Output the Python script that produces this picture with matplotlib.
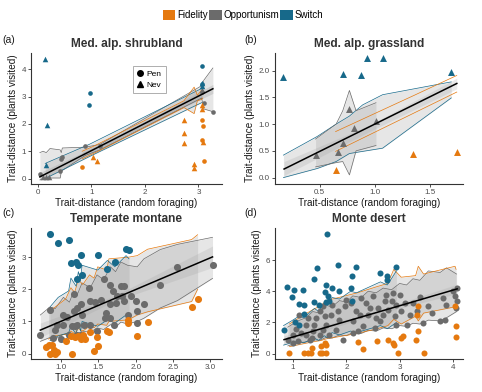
import matplotlib
matplotlib.use("Agg")
import matplotlib.pyplot as plt
from matplotlib.patches import Patch
from matplotlib.lines import Line2D
import numpy as np

plt.rcParams['font.family'] = ['Liberation Sans', 'DejaVu Sans']

C_FID = '#E5790F'
C_OPP = '#6B6B6B'
C_SW = '#17698A'

groups = ['Fidelity', 'Opportunism', 'Switch']
titles = ['Med. alp. shrubland', 'Med. alp. grassland', 'Temperate montane', 'Monte desert']
panel_tags = ['(a)', '(b)', '(c)', '(d)']
xlab = 'Trait-distance (random foraging)'
ylab = 'Trait-distance (plants visited)'

# ---------------- Panel (a) ----------------
a_sw_tri_x = [0.14, 0.17, 0.15, 3.06, 3.06]
a_sw_tri_y = [4.37, 1.98, 0.50, 3.50, 3.40]
a_sw_cir_x = [0.98, 0.96, 3.06, 3.06]
a_sw_cir_y = [3.15, 2.68, 4.13, 3.45]
a_fid_tri_x = [1.04, 1.11, 2.73, 2.73, 2.73, 2.92, 2.92, 3.06, 3.06, 3.08]
a_fid_tri_y = [0.78, 0.63, 2.13, 1.67, 1.30, 0.55, 0.37, 2.70, 2.55, 1.35]
a_fid_cir_x = [0.83, 3.07, 3.08, 3.06, 3.10]
a_fid_cir_y = [0.41, 2.13, 1.94, 1.40, 0.66]
a_opp_cir_x = [0.04, 0.42, 0.44, 0.46, 0.89, 1.16, 3.06, 3.10, 3.27]
a_opp_cir_y = [0.16, 0.28, 0.70, 0.78, 1.19, 1.18, 3.17, 2.77, 2.44]
a_opp_tri_x = [0.10, 0.16, 0.22, 3.06]
a_opp_tri_y = [0.06, 0.06, 0.06, 3.25]

a_rib_sw_x = [0.14, 0.17, 0.96, 0.98, 3.06]
a_rib_sw_hi = [0.55, 0.58, 1.25, 1.27, 3.30]
a_rib_sw_lo = [0.00, 0.03, 0.80, 0.82, 2.78]
a_rib_fid_x = [0.83, 1.04, 1.11, 2.73, 2.92, 2.98, 3.06, 3.08]
a_rib_fid_hi = [1.00, 1.18, 1.25, 2.85, 3.35, 3.05, 3.25, 3.20]
a_rib_fid_lo = [0.72, 0.92, 0.98, 2.60, 2.38, 2.85, 2.90, 2.95]
a_rib_opp_x = [0.04, 0.10, 0.16, 0.23, 0.42, 0.44, 0.46, 0.89, 1.16, 3.06, 3.10, 3.27]
a_rib_opp_hi = [0.95, 1.00, 0.95, 1.10, 1.05, 0.95, 1.12, 1.15, 1.25, 3.40, 3.60, 4.05]
a_rib_opp_lo = [-0.05, 0.00, 0.00, 0.02, 0.02, 0.25, 0.30, 0.85, 1.05, 2.95, 2.55, 2.45]
a_ci_x = [0.04, 1.65, 3.27]
a_ci_hi = [0.22, 1.70, 3.45]
a_ci_lo = [-0.08, 1.60, 3.12]
a_fit_x = [0.04, 3.27]
a_fit_y = [0.06, 3.29]

# ---------------- Panel (b) ----------------
b_sw_x = [0.174, 0.71, 0.875, 0.926, 1.074, 1.687]
b_sw_y = [1.89, 1.94, 1.91, 2.24, 2.24, 1.975]
b_fid_x = [0.645, 1.346, 1.74]
b_fid_y = [0.14, 0.44, 0.47]
b_opp_x = [0.464, 0.67, 0.71, 0.81, 0.77, 1.01]
b_opp_y = [0.42, 0.48, 0.64, 0.93, 1.28, 1.06]

b_rib_sw_x = [0.174, 0.48, 0.65, 0.77, 0.89, 1.07, 1.69]
b_rib_sw_hi = [0.42, 0.77, 1.00, 1.15, 1.36, 1.55, 1.79]
b_rib_sw_lo = [0.00, 0.17, 0.30, 0.45, 0.49, 0.55, 1.49]
b_rib_opp_x = [0.464, 0.65, 0.71, 0.77, 0.83, 1.01]
b_rib_opp_hi = [0.72, 1.00, 1.25, 1.63, 1.25, 1.40]
b_rib_opp_lo = [0.20, 0.28, 0.30, 0.05, 0.50, 0.60]
b_rib_fid_x = [0.645, 1.346, 1.74]
b_rib_fid_hi = [0.86, 1.53, 1.91]
b_rib_fid_lo = [0.49, 1.20, 1.60]
b_ci_x = [0.18, 0.95, 1.74]
b_ci_hi = [0.30, 0.98, 1.86]
b_ci_lo = [0.04, 0.86, 1.66]
b_fit_x = [0.18, 1.74]
b_fit_y = [0.16, 1.76]

# ---------------- Panel (c) ----------------
c_sw_x = [0.85, 0.955, 1.10, 1.13, 1.20, 1.23, 1.26, 1.49, 1.21, 1.28, 1.62, 1.72, 1.87, 1.91]
c_sw_y = [3.72, 3.43, 3.53, 2.82, 2.85, 2.75, 3.06, 3.08, 2.31, 2.45, 2.62, 2.86, 3.26, 3.22]
c_fid_x = [0.83, 0.87, 0.85, 0.92, 0.95, 1.06, 1.13, 1.15, 1.18, 1.23, 1.29, 1.32, 1.38,
           1.44, 1.49, 1.61, 1.64, 1.90, 1.90, 2.02, 2.16, 2.83, 2.75, 0.90, 0.80, 1.48, 1.27]
c_fid_y = [0.26, 0.26, 0.00, 0.00, 0.04, 0.40, 0.54, 0.00, 0.51, 0.54, 0.59, 0.44, 0.66,
           0.07, 0.23, 0.70, 0.66, 1.06, 0.96, 0.56, 0.98, 1.70, 1.44, 0.10, 0.20, 0.51, 0.45]
c_opp_x = [0.72, 0.85, 0.89, 0.92, 0.94, 1.03, 1.08, 1.03, 1.14, 1.11, 1.19, 1.21, 1.17,
           1.21, 1.17, 1.26, 1.28, 1.21, 1.26, 1.30, 1.37, 1.39, 1.59, 1.60, 1.66, 1.66,
           1.73, 1.75, 1.80, 1.84, 1.82, 1.84, 1.93, 2.01, 2.02, 2.11, 2.33, 2.56, 3.03,
           1.66, 1.71, 1.48, 1.53, 1.57, 1.70, 1.89, 1.39, 2.02, 1.00, 1.45]
c_opp_y = [0.59, 1.37, 0.49, 0.72, 0.90, 1.21, 1.13, 0.90, 0.85, 0.59, 0.85, 0.90, 1.32,
           1.42, 1.84, 1.53, 1.21, 0.59, 0.59, 0.90, 2.05, 1.63, 1.11, 1.27, 2.15, 1.53,
           1.58, 1.79, 2.10, 2.10, 1.79, 1.63, 1.79, 1.63, 0.96, 1.53, 2.15, 2.69, 2.75,
           1.11, 0.90, 0.70, 1.68, 2.31, 1.94, 1.21, 0.90, 1.32, 0.45, 1.60]

c_rib_opp_x = [0.72, 0.85, 0.92, 1.03, 1.11, 1.17, 1.21, 1.28, 1.39, 1.48, 1.57, 1.66,
               1.73, 1.80, 1.89, 2.02, 2.11, 2.33, 2.56, 3.03]
c_rib_opp_hi = [1.20, 1.45, 1.40, 1.75, 1.60, 1.95, 1.80, 2.20, 2.05, 2.45, 2.30, 2.70,
                2.55, 2.85, 2.75, 2.70, 2.95, 3.24, 3.40, 3.62]
c_rib_opp_lo = [0.38, 0.50, 0.45, 0.60, 0.55, 0.62, 0.58, 0.70, 0.66, 0.80, 0.75, 0.90,
                0.82, 0.98, 0.92, 1.00, 1.10, 1.42, 1.65, 2.34]
c_rib_fid_x = [0.83, 0.92, 1.06, 1.13, 1.18, 1.23, 1.29, 1.38, 1.44, 1.49, 1.61, 1.64,
               1.90, 2.02, 2.16, 2.75, 2.83]
c_rib_fid_hi = [1.30, 1.45, 1.70, 2.05, 1.90, 2.30, 2.15, 2.45, 2.35, 2.70, 2.60, 2.95,
                3.00, 3.05, 3.25, 3.55, 3.70]
c_rib_fid_lo = [0.45, 0.55, 0.60, 0.70, 0.62, 0.78, 0.70, 0.85, 0.80, 0.92, 0.88, 1.00,
                1.05, 1.20, 1.30, 1.62, 2.00]
c_rib_sw_x = [0.85, 0.96, 1.10, 1.13, 1.20, 1.23, 1.26, 1.28, 1.49, 1.62, 1.72, 1.87, 1.91]
c_rib_sw_hi = [1.45, 1.75, 1.95, 2.35, 2.10, 2.55, 2.30, 2.75, 2.60, 2.90, 2.70, 3.05, 2.95]
c_rib_sw_lo = [0.40, 0.55, 0.65, 0.85, 0.60, 0.95, 0.70, 1.00, 0.85, 1.05, 0.95, 1.20, 1.15]
c_ci_x = [0.72, 1.70, 3.03]
c_ci_hi = [0.95, 1.78, 3.35]
c_ci_lo = [0.50, 1.62, 2.68]
c_fit_x = [0.72, 3.03]
c_fit_y = [0.73, 3.01]

# ---------------- Panel (d) ----------------
d_sw_x = [0.82, 0.88, 1.01, 0.97, 1.11, 1.18, 1.20, 1.21, 1.03, 1.12, 1.40, 1.45, 1.40,
          1.48, 1.59, 1.62, 1.64, 1.65, 1.61, 1.67, 1.73, 1.84, 1.87, 2.11, 2.08, 2.19,
          2.11, 2.64, 2.76, 2.77, 2.94]
d_sw_y = [1.54, 4.27, 4.06, 3.63, 3.21, 4.06, 3.10, 2.54, 2.03, 1.86, 4.76, 5.49, 3.29,
          3.10, 3.97, 4.42, 7.67, 3.68, 3.31, 3.40, 4.21, 5.71, 4.04, 4.96, 4.21, 5.58,
          3.35, 5.17, 5.00, 4.74, 5.56]
d_fid_x = [0.93, 1.21, 1.28, 1.33, 1.36, 1.50, 1.55, 1.61, 1.53, 1.59, 1.62, 2.21, 2.31,
           2.58, 2.78, 2.88, 2.89, 2.97, 3.03, 3.07, 3.30, 3.35, 3.35, 3.33, 3.45, 4.06,
           4.05, 4.04]
d_fid_y = [0.04, 0.04, 0.04, 0.04, 0.36, 0.04, 0.04, 0.04, 0.47, 0.68, 0.58, 0.75, 0.32,
           0.79, 0.90, 0.66, 0.53, 0.04, 1.00, 1.11, 0.90, 1.47, 3.03, 2.46, 0.04, 1.75,
           1.05, 3.08]
d_opp_x = [0.90, 0.99, 1.09, 1.15, 1.24, 1.24, 1.31, 1.37, 1.40, 1.43, 1.50, 1.56, 1.59,
           1.62, 1.68, 1.72, 1.73, 1.81, 1.84, 1.87, 1.94, 1.97, 2.00, 2.09, 2.12, 2.19,
           2.22, 2.28, 2.31, 2.37, 2.41, 2.44, 2.50, 2.53, 2.56, 2.63, 2.69, 2.72, 2.75,
           2.78, 2.85, 2.88, 2.91, 2.94, 3.00, 3.03, 3.10, 3.13, 3.19, 3.25, 3.32, 3.38,
           3.44, 3.54, 3.76, 3.82, 3.85, 3.88, 4.01, 4.04, 4.07, 4.07, 4.06, 2.12, 1.50,
           1.28, 1.56, 0.99, 1.12, 2.94, 1.05, 1.35, 2.60, 2.25, 3.60]
d_opp_y = [0.90, 1.22, 0.79, 1.32, 1.86, 1.22, 0.90, 1.43, 1.86, 2.29, 1.22, 1.54, 2.39,
           1.86, 1.22, 2.50, 3.14, 1.54, 2.71, 2.18, 0.90, 3.03, 3.46, 3.25, 2.07, 2.71,
           1.43, 3.57, 1.75, 3.25, 2.50, 2.93, 3.68, 1.65, 2.29, 2.07, 2.50, 3.35, 3.78,
           2.82, 3.35, 3.89, 2.39, 1.86, 3.78, 2.71, 3.25, 1.86, 2.50, 3.25, 2.71, 3.61,
           1.97, 3.03, 2.07, 3.57, 2.18, 3.14, 4.00, 3.68, 4.21, 3.35, 2.93, 1.32, 2.71,
           2.29, 3.03, 0.68, 2.50, 3.14, 1.60, 1.00, 2.90, 2.45, 2.60]

d_rib_sw_x = [0.82, 0.97, 1.11, 1.20, 1.40, 1.48, 1.59, 1.65, 1.73, 1.87, 2.08, 2.19,
              2.64, 2.77, 2.94]
d_rib_sw_hi = [1.80, 2.10, 2.40, 2.30, 2.90, 2.70, 3.30, 3.10, 3.60, 3.50, 4.00, 3.90,
               4.60, 4.40, 5.30]
d_rib_sw_lo = [0.55, 0.70, 0.80, 0.70, 1.00, 0.85, 1.15, 1.00, 1.35, 1.20, 1.45, 1.35,
               1.80, 1.60, 2.00]
d_rib_fid_x = [0.93, 1.21, 1.36, 1.53, 1.62, 2.21, 2.58, 2.78, 2.89, 3.03, 3.30, 3.35,
               3.45, 4.04, 4.06]
d_rib_fid_hi = [1.90, 2.50, 2.80, 3.10, 3.40, 3.90, 4.30, 4.50, 5.40, 4.90, 5.00, 5.60,
                5.10, 5.60, 5.40]
d_rib_fid_lo = [0.45, 0.65, 0.75, 0.85, 0.95, 1.30, 1.60, 1.80, 2.20, 1.90, 2.40, 2.10,
                2.60, 3.00, 2.80]
d_rib_opp_x = [0.90, 1.09, 1.24, 1.37, 1.50, 1.62, 1.73, 1.87, 2.00, 2.12, 2.28, 2.41,
               2.56, 2.69, 2.85, 3.00, 3.13, 3.25, 3.38, 3.54, 3.76, 3.88, 4.07]
d_rib_opp_hi = [1.70, 2.10, 2.30, 2.70, 2.60, 3.10, 3.00, 3.40, 3.30, 3.70, 3.60, 4.00,
                3.90, 4.20, 4.10, 4.50, 4.40, 4.80, 4.70, 5.30, 5.20, 5.50, 5.10]
d_rib_opp_lo = [0.50, 0.70, 0.75, 0.90, 0.85, 1.05, 1.00, 1.20, 1.15, 1.35, 1.30, 1.50,
                1.45, 1.65, 1.60, 1.80, 1.75, 1.95, 1.90, 2.15, 2.10, 2.30, 2.70]
d_ci_x = [0.83, 2.45, 4.08]
d_ci_hi = [1.15, 2.62, 4.45]
d_ci_lo = [0.65, 2.42, 3.85]
d_fit_x = [0.83, 4.08]
d_fit_y = [0.90, 4.15]

# ---------------- figure ----------------
fig = plt.figure(figsize=(4.82, 3.92), dpi=100)
W, H = 482, 392
boxes = [(31, 53, 222, 184), (275, 53, 463, 184), (31, 228, 222, 359), (275, 228, 463, 359)]
axes = []
for (l, t, r, b) in boxes:
    ax = fig.add_axes([l / W, 1 - b / H, (r - l) / W, (b - t) / H])
    axes.append(ax)

FILL = '#9A9A9A'


def ribbon(ax, x, lo, hi, col, alpha=0.24, lw=0.5):
    ax.fill_between(x, lo, hi, color=FILL, alpha=alpha, lw=0, zorder=1)
    ax.plot(x, hi, color=col, lw=lw, zorder=2)
    ax.plot(x, lo, color=col, lw=lw, zorder=2)


def style(ax, xlim, ylim, xt, yt, fmtx, fmty, title):
    ax.set_xlim(*xlim)
    ax.set_ylim(*ylim)
    ax.set_xticks(xt)
    ax.set_yticks(yt)
    ax.set_xticklabels([fmtx.format(v) for v in xt])
    ax.set_yticklabels([fmty.format(v) for v in yt])
    for s in ['top', 'right']:
        ax.spines[s].set_visible(False)
    for s in ['left', 'bottom']:
        ax.spines[s].set_color('#333333')
        ax.spines[s].set_linewidth(0.8)
    ax.tick_params(axis='both', length=2.2, width=0.6, color='#333333',
                   labelsize=5.8, labelcolor='#4D4D4D', pad=1.5)
    ax.set_xlabel(xlab, fontsize=7.2, labelpad=1.5, color='#1A1A1A')
    ax.set_ylabel(ylab, fontsize=7.2, labelpad=2.5, color='#1A1A1A')
    ax.set_title(title, fontsize=8.6, fontweight='bold', color='#333333', pad=4)
    ax.set_facecolor('white')


# panel a
ax = axes[0]
ribbon(ax, a_rib_opp_x, a_rib_opp_lo, a_rib_opp_hi, C_OPP)
ribbon(ax, a_rib_sw_x, a_rib_sw_lo, a_rib_sw_hi, C_SW)
ribbon(ax, a_rib_fid_x, a_rib_fid_lo, a_rib_fid_hi, C_FID)
ax.fill_between(a_ci_x, a_ci_lo, a_ci_hi, color=FILL, alpha=0.3, lw=0, zorder=1)
ms_a = 11
ax.scatter(a_opp_cir_x, a_opp_cir_y, s=ms_a, color=C_OPP, marker='o', lw=0, zorder=3)
ax.scatter(a_opp_tri_x, a_opp_tri_y, s=ms_a + 5, color=C_OPP, marker='^', lw=0, zorder=3)
ax.scatter(a_fid_cir_x, a_fid_cir_y, s=ms_a, color=C_FID, marker='o', lw=0, zorder=3)
ax.scatter(a_fid_tri_x, a_fid_tri_y, s=ms_a + 5, color=C_FID, marker='^', lw=0, zorder=3)
ax.scatter(a_sw_cir_x, a_sw_cir_y, s=ms_a, color=C_SW, marker='o', lw=0, zorder=3)
ax.scatter(a_sw_tri_x, a_sw_tri_y, s=ms_a + 5, color=C_SW, marker='^', lw=0, zorder=3)
ax.plot(a_fit_x, a_fit_y, color='black', lw=1.1, zorder=4)
style(ax, (-0.125, 3.44), (-0.2, 4.6), [0, 1, 2, 3], [0, 1, 2, 3, 4], '{:g}', '{:g}', titles[0])
shape_handles = [Line2D([], [], marker='o', color='black', ls='none', markersize=4, label='Pen'),
                 Line2D([], [], marker='^', color='black', ls='none', markersize=4.5, label='Nev')]
leg = ax.legend(handles=shape_handles, loc='upper left', bbox_to_anchor=(0.51, 0.93),
                fontsize=6, frameon=True, fancybox=False, edgecolor='#999999',
                handlelength=0.8, handletextpad=0.4, borderpad=0.5, labelspacing=0.35)
leg.get_frame().set_linewidth(0.7)

# panel b
ax = axes[1]
ribbon(ax, b_rib_sw_x, b_rib_sw_lo, b_rib_sw_hi, C_SW)
ribbon(ax, b_rib_opp_x, b_rib_opp_lo, b_rib_opp_hi, C_OPP)
ribbon(ax, b_rib_fid_x, b_rib_fid_lo, b_rib_fid_hi, C_FID, alpha=0.0)
ax.fill_between(b_ci_x, b_ci_lo, b_ci_hi, color=FILL, alpha=0.2, lw=0, zorder=1)
ms_b = 25
ax.scatter(b_opp_x, b_opp_y, s=ms_b, color=C_OPP, marker='^', lw=0, zorder=3)
ax.scatter(b_fid_x, b_fid_y, s=ms_b, color=C_FID, marker='^', lw=0, zorder=3)
ax.scatter(b_sw_x, b_sw_y, s=ms_b, color=C_SW, marker='^', lw=0, zorder=3)
ax.plot(b_fit_x, b_fit_y, color='black', lw=1.1, zorder=4)
style(ax, (0.098, 1.796), (-0.12, 2.33), [0.5, 1.0, 1.5], [0.0, 0.5, 1.0, 1.5, 2.0], '{:.1f}', '{:.1f}', titles[1])

# panel c
ax = axes[2]
ribbon(ax, c_rib_opp_x, c_rib_opp_lo, c_rib_opp_hi, C_OPP)
ribbon(ax, c_rib_fid_x, c_rib_fid_lo, c_rib_fid_hi, C_FID)
ribbon(ax, c_rib_sw_x, c_rib_sw_lo, c_rib_sw_hi, C_SW)
ax.fill_between(c_ci_x, c_ci_lo, c_ci_hi, color=FILL, alpha=0.2, lw=0, zorder=1)
ms_c = 26
ax.scatter(c_opp_x, c_opp_y, s=ms_c, color=C_OPP, marker='o', lw=0, zorder=3)
ax.scatter(c_fid_x, c_fid_y, s=ms_c, color=C_FID, marker='o', lw=0, zorder=3)
ax.scatter(c_sw_x, c_sw_y, s=ms_c, color=C_SW, marker='o', lw=0, zorder=3)
ax.plot(c_fit_x, c_fit_y, color='black', lw=1.1, zorder=4)
style(ax, (0.595, 3.157), (-0.17, 3.91), [1.0, 1.5, 2.0, 2.5, 3.0], [0, 1, 2, 3], '{:.1f}', '{:g}', titles[2])

# panel d
ax = axes[3]
ribbon(ax, d_rib_opp_x, d_rib_opp_lo, d_rib_opp_hi, C_OPP)
ribbon(ax, d_rib_fid_x, d_rib_fid_lo, d_rib_fid_hi, C_FID)
ribbon(ax, d_rib_sw_x, d_rib_sw_lo, d_rib_sw_hi, C_SW)
ax.fill_between(d_ci_x, d_ci_lo, d_ci_hi, color=FILL, alpha=0.2, lw=0, zorder=1)
ms_d = 19
ax.scatter(d_opp_x, d_opp_y, s=ms_d, color=C_OPP, marker='o', lw=0, zorder=3)
ax.scatter(d_fid_x, d_fid_y, s=ms_d, color=C_FID, marker='o', lw=0, zorder=3)
ax.scatter(d_sw_x, d_sw_y, s=ms_d, color=C_SW, marker='o', lw=0, zorder=3)
ax.plot(d_fit_x, d_fit_y, color='black', lw=1.1, zorder=4)
style(ax, (0.66, 4.19), (-0.34, 8.05), [1, 2, 3, 4], [0, 2, 4, 6], '{:g}', '{:g}', titles[3])

# panel tags
for tag, (x, y) in zip(panel_tags, [(2, 40), (244, 40), (2, 213), (244, 213)]):
    fig.text(x / W, 1 - y / H, tag, fontsize=7.5, ha='left', va='center', color='#1A1A1A')

# top legend
handles = [Patch(facecolor=c, edgecolor='none', label=g) for g, c in zip(groups, [C_FID, C_OPP, C_SW])]
fig.legend(handles=handles, loc='center', bbox_to_anchor=(0.504, 1 - 15 / H), ncol=3,
           frameon=False, fontsize=7, handlelength=1.3, handleheight=1.2,
           handletextpad=0.15, columnspacing=0.15, borderpad=0)

fig.savefig('out.png', dpi=100, facecolor='white')
